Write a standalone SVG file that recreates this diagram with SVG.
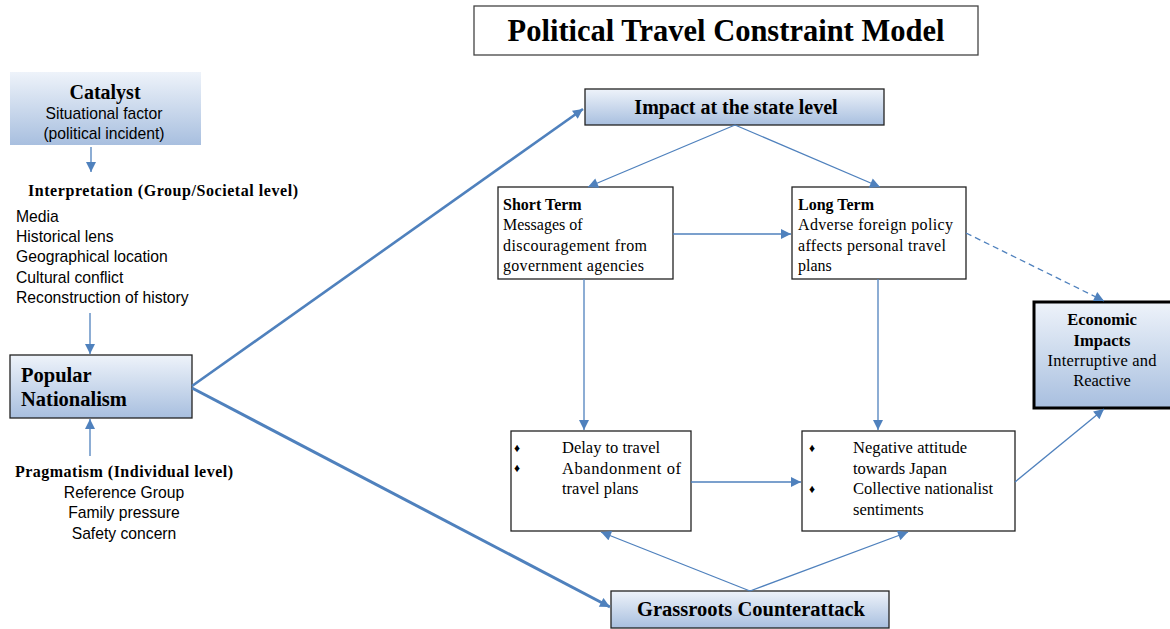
<svg xmlns="http://www.w3.org/2000/svg" width="1170" height="629" viewBox="0 0 1170 629">
<defs>
<linearGradient id="g" x1="0" y1="0" x2="0" y2="1">
<stop offset="0" stop-color="#eef3fa"/>
<stop offset="1" stop-color="#a8bfdf"/>
</linearGradient>
<marker id="ah" viewBox="0 0 10 10" refX="10" refY="5" markerWidth="11" markerHeight="10" markerUnits="userSpaceOnUse" orient="auto">
<path d="M0,0 L10,5 L0,10 z" fill="#4f81bd"/>
</marker>
</defs>
<style>
.ser{font-family:"Liberation Serif","Times New Roman",serif;fill:#000}
.b{font-weight:bold}
.sans{font-family:"Liberation Sans",Arial,sans-serif;fill:#000;font-size:15.7px}
.box{fill:#fff;stroke:#222;stroke-width:1.3}
.gbox{fill:url(#g);stroke:#222;stroke-width:1.3}
.c{fill:none;stroke:#4f81bd;stroke-width:1.3;marker-end:url(#ah)}
.thick{stroke-width:2.6}
.thicker{stroke-width:3}
.t{font-size:16px}
.t2{font-size:16.5px}
</style>
<rect width="1170" height="629" fill="#fff"/>
<g id="title">
<rect x="474" y="6" width="504" height="49" fill="#fff" stroke="#444" stroke-width="1.3"/>
<text x="726" y="41" text-anchor="middle" class="ser b" font-size="30.5">Political Travel Constraint Model</text>
</g>
<g id="catalyst">
<rect x="10" y="72" width="191" height="73" fill="url(#g)"/>
<text x="105" y="99" text-anchor="middle" class="ser b" font-size="20">Catalyst</text>
<text x="104" y="119" text-anchor="middle" class="sans">Situational factor</text>
<text x="104" y="139" text-anchor="middle" class="sans">(political incident)</text>
</g>
<g id="interpretation">
<text x="28" y="196" class="ser b" font-size="16" textLength="270">Interpretation (Group/Societal level)</text>
<text x="16" y="222" class="sans">Media</text>
<text x="16" y="242" class="sans">Historical lens</text>
<text x="16" y="262" class="sans">Geographical location</text>
<text x="16" y="283" class="sans">Cultural conflict</text>
<text x="16" y="303" class="sans">Reconstruction of history</text>
</g>
<g id="popular-nationalism">
<rect x="10" y="355" width="182" height="63" class="gbox"/>
<text x="21" y="382" class="ser b" font-size="20.5">Popular</text>
<text x="21" y="406" class="ser b" font-size="20.5">Nationalism</text>
</g>
<g id="pragmatism">
<text x="15" y="477" class="ser b" font-size="16" textLength="218">Pragmatism (Individual level)</text>
<text x="124" y="498" text-anchor="middle" class="sans">Reference Group</text>
<text x="124" y="518" text-anchor="middle" class="sans">Family pressure</text>
<text x="124" y="539" text-anchor="middle" class="sans">Safety concern</text>
</g>
<g id="impact-state">
<rect x="585" y="89" width="299" height="36" class="gbox"/>
<text x="736" y="114" text-anchor="middle" class="ser b" font-size="20">Impact at the state level</text>
</g>
<g id="short-term">
<rect x="498" y="187" width="175" height="92" class="box"/>
<text x="503" y="210" class="ser b t">Short Term</text>
<text x="503" y="230" class="ser t">Messages of</text>
<text x="503" y="251" class="ser t" textLength="144">discouragement from</text>
<text x="503" y="271" class="ser t" textLength="141">government agencies</text>
</g>
<g id="long-term">
<rect x="792" y="187" width="174" height="92" class="box"/>
<text x="798" y="210" class="ser b t">Long Term</text>
<text x="798" y="230" class="ser t" textLength="155">Adverse foreign policy</text>
<text x="798" y="251" class="ser t" textLength="148">affects personal travel</text>
<text x="798" y="271" class="ser t">plans</text>
</g>
<g id="economic-impacts">
<rect x="1034" y="302" width="140" height="106" fill="url(#g)" stroke="#000" stroke-width="3"/>
<text x="1102" y="325" text-anchor="middle" class="ser b t2">Economic</text>
<text x="1102" y="346" text-anchor="middle" class="ser b t2">Impacts</text>
<text x="1102" y="366" text-anchor="middle" class="ser t2" textLength="109">Interruptive and</text>
<text x="1102" y="386" text-anchor="middle" class="ser t2">Reactive</text>
</g>
<g id="delay">
<rect x="511" y="431" width="180" height="100" class="box"/>
<text x="514" y="452" class="ser" font-size="12">♦</text>
<text x="514" y="472" class="ser" font-size="12">♦</text>
<text x="562" y="453" class="ser t2">Delay to travel</text>
<text x="562" y="474" class="ser t2" textLength="119">Abandonment of</text>
<text x="562" y="494" class="ser t2">travel plans</text>
</g>
<g id="negative">
<rect x="802" y="431" width="213" height="100" class="box"/>
<text x="809" y="452" class="ser" font-size="12">♦</text>
<text x="809" y="493" class="ser" font-size="12">♦</text>
<text x="853" y="453" class="ser t2" textLength="114">Negative attitude</text>
<text x="853" y="474" class="ser t2">towards Japan</text>
<text x="853" y="494" class="ser t2" textLength="140">Collective nationalist</text>
<text x="853" y="515" class="ser t2">sentiments</text>
</g>
<g id="grassroots">
<rect x="611" y="591" width="278" height="37" class="gbox"/>
<text x="751" y="616" text-anchor="middle" class="ser b" font-size="20.5">Grassroots Counterattack</text>
</g>
<g id="connectors">
<line x1="91" y1="147" x2="91" y2="172" class="c"/>
<line x1="90" y1="313" x2="90" y2="354" class="c"/>
<line x1="90" y1="456" x2="90" y2="419" class="c"/>
<line x1="192" y1="386" x2="583" y2="109" class="c thick"/>
<line x1="192" y1="388" x2="610" y2="607" class="c thicker"/>
<line x1="735" y1="125" x2="588" y2="187" class="c"/>
<line x1="735" y1="125" x2="880" y2="187" class="c"/>
<line x1="673" y1="234" x2="791" y2="234" class="c"/>
<line x1="966" y1="233" x2="1104" y2="301" class="c" stroke-dasharray="6,4"/>
<line x1="584" y1="279" x2="584" y2="430" class="c"/>
<line x1="878" y1="279" x2="878" y2="430" class="c"/>
<line x1="691" y1="482" x2="801" y2="482" class="c"/>
<line x1="1015" y1="482" x2="1104" y2="409" class="c"/>
<line x1="750" y1="591" x2="601" y2="532" class="c"/>
<line x1="750" y1="591" x2="908" y2="532" class="c"/>
</g>
</svg>
